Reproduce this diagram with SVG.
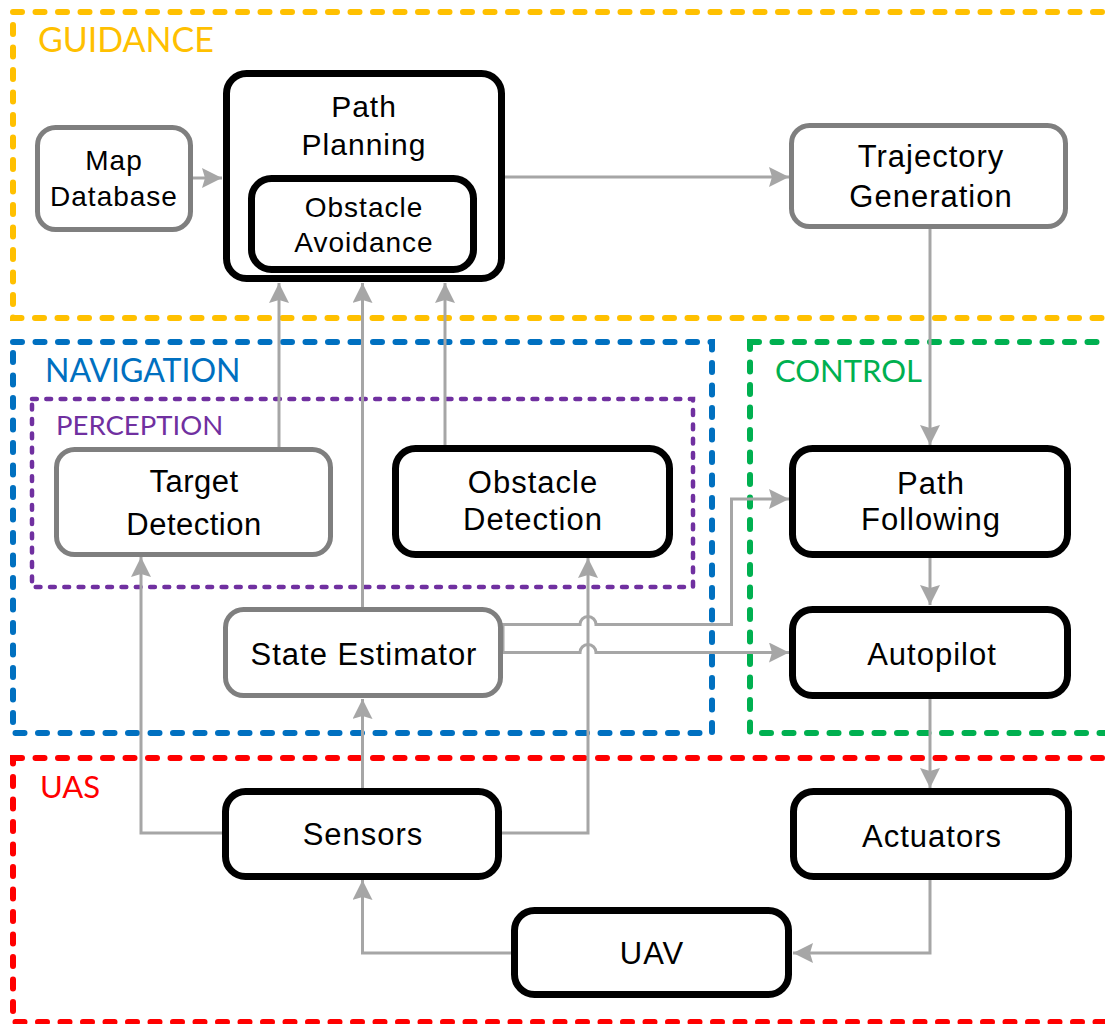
<svg xmlns="http://www.w3.org/2000/svg" width="1105" height="1024" viewBox="0 0 1105 1024">
  <defs>
    <marker id="arrow" viewBox="0 0 20 20" refX="20" refY="10" markerWidth="20" markerHeight="20" markerUnits="userSpaceOnUse" orient="auto">
      <path d="M0,0 L20,10 L0,20 L3,10 z" fill="#A6A6A6"/>
    </marker>
    <style>
      .zone { fill: none; stroke-width: 6; stroke-linecap: round; stroke-dasharray: 9 13.5; }
      .zone-label { font-family: Lato, "Liberation Sans", sans-serif; }
      .box-dark { fill: #FFFFFF; stroke: #000000; stroke-width: 7; }
      .box-grey { fill: #FFFFFF; stroke: #7F7F7F; stroke-width: 5; }
      .label { font-family: "Liberation Sans", Arial, sans-serif; font-size: 31px; fill: #000000; text-anchor: middle; letter-spacing: 1px; }
      .link { fill: none; stroke: #A6A6A6; stroke-width: 3; }
      .arrow { marker-end: url(#arrow); }
    </style>
  </defs>

  <!-- Functional zones -->
  <g id="zones">
    <rect class="zone" x="13" y="12" width="1100" height="306" stroke="#FFC000"/>
    <rect class="zone" x="13" y="342" width="699" height="391" stroke="#0070C0"/>
    <rect class="zone" x="750" y="342" width="400" height="391" stroke="#00B050"/>
    <rect class="zone" x="32" y="399" width="661" height="188" stroke="#7030A0" style="stroke-width:4.5;stroke-dasharray:4.8 9.5"/>
    <rect class="zone" x="13" y="758" width="1100" height="264" stroke="#FF0000"/>
    <text class="zone-label" x="38" y="52" font-size="34" fill="#FFC000">GUIDANCE</text>
    <text class="zone-label" x="45" y="382" font-size="32" fill="#0070C0">NAVIGATION</text>
    <text class="zone-label" x="56" y="435" font-size="27.5" fill="#7030A0">PERCEPTION</text>
    <text class="zone-label" x="775" y="382" font-size="31" fill="#00B050">CONTROL</text>
    <text class="zone-label" x="40" y="798" font-size="31" fill="#FF0000">UAS</text>
  </g>

  <!-- Connectors -->
  <g id="connectors">
    <path class="link arrow" d="M193 178 L222 178"/>
    <path class="link arrow" d="M505 177 L789 177"/>
    <path class="link arrow" d="M930 229 L930 445"/>
    <path class="link arrow" d="M279 447 L279 283"/>
    <path class="link arrow" d="M362.5 607 L362.5 283"/>
    <path class="link arrow" d="M445 445 L445 283"/>
    <path class="link arrow" d="M930 558 L930 605"/>
    <path class="link arrow" d="M930 699 L930 788"/>
    <path class="link arrow" d="M930 880 L930 953 L793 953"/>
    <path class="link arrow" d="M511 953 L362.5 953 L362.5 880"/>
    <path class="link arrow" d="M362.5 788 L362.5 699"/>
    <path class="link arrow" d="M222 833 L141 833 L141 557"/>
    <path class="link arrow" d="M502 833 L588 833 L588 558"/>
    <path class="link arrow" d="M503 652.5 L503 624.5 L580 624.5 A8 8 0 0 1 596 624.5 L731.5 624.5 L731.5 499 L789 499"/>
    <path class="link arrow" d="M503 652.5 L580 652.5 A8 8 0 0 1 596 652.5 L789 652.5"/>
  </g>

  <!-- Guidance -->
  <g id="map-database">
    <rect class="box-grey" x="37.5" y="127.5" width="153" height="102" rx="18"/>
    <text class="label" x="114" y="170" style="font-size:28px">Map</text>
    <text class="label" x="114" y="206" style="font-size:28px">Database</text>
  </g>
  <g id="path-planning">
    <rect class="box-dark" x="226.5" y="73.5" width="275" height="205" rx="20"/>
    <text class="label" x="364" y="117" style="font-size:30px">Path</text>
    <text class="label" x="364" y="155" style="font-size:30px">Planning</text>
  </g>
  <g id="obstacle-avoidance">
    <rect class="box-dark" x="251.5" y="178.5" width="222" height="91" rx="20"/>
    <text class="label" x="364" y="217" style="font-size:28px">Obstacle</text>
    <text class="label" x="364" y="252" style="font-size:28px">Avoidance</text>
  </g>
  <g id="trajectory-generation">
    <rect class="box-grey" x="791.5" y="125.5" width="274" height="101" rx="18"/>
    <text class="label" x="931" y="167">Trajectory</text>
    <text class="label" x="931" y="207">Generation</text>
  </g>

  <!-- Navigation -->
  <g id="target-detection">
    <rect class="box-grey" x="56.5" y="449.5" width="274" height="105" rx="18"/>
    <text class="label" x="194" y="492" style="letter-spacing:0.5px">Target</text>
    <text class="label" x="194" y="535" style="letter-spacing:0.5px">Detection</text>
  </g>
  <g id="obstacle-detection">
    <rect class="box-dark" x="395.5" y="448.5" width="274" height="106" rx="20"/>
    <text class="label" x="533" y="493">Obstacle</text>
    <text class="label" x="533" y="530">Detection</text>
  </g>
  <g id="state-estimator">
    <rect class="box-grey" x="225.5" y="609.5" width="275" height="86" rx="18"/>
    <text class="label" x="364" y="665">State Estimator</text>
  </g>

  <!-- Control -->
  <g id="path-following">
    <rect class="box-dark" x="792.5" y="448.5" width="275" height="106" rx="20"/>
    <text class="label" x="931" y="494">Path</text>
    <text class="label" x="931" y="530">Following</text>
  </g>
  <g id="autopilot">
    <rect class="box-dark" x="792.5" y="609.5" width="275" height="86" rx="20"/>
    <text class="label" x="932" y="665">Autopilot</text>
  </g>

  <!-- UAS -->
  <g id="sensors">
    <rect class="box-dark" x="225.5" y="791.5" width="273" height="85" rx="20"/>
    <text class="label" x="363" y="845">Sensors</text>
  </g>
  <g id="actuators">
    <rect class="box-dark" x="793.5" y="791.5" width="275" height="85" rx="20"/>
    <text class="label" x="932" y="847">Actuators</text>
  </g>
  <g id="uav">
    <rect class="box-dark" x="514.5" y="910.5" width="274" height="84" rx="20"/>
    <text class="label" x="652" y="964">UAV</text>
  </g>
</svg>
